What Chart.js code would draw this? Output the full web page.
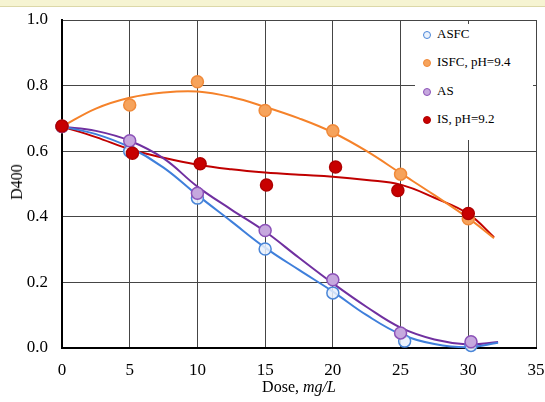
<!DOCTYPE html>
<html>
<head>
<meta charset="utf-8">
<script src="https://cdn.jsdelivr.net/npm/chart.js@4"></script>
<style>
  body { margin: 0; background: #fff; }
  #wrap { position: relative; width: 545px; height: 402px; overflow: hidden; font-family: "Liberation Serif", "Times New Roman", serif; }
  #band { position: absolute; left: 0; top: 0; width: 545px; height: 6px; background: #f6f4d2; border-bottom: 1px solid #dcd8a8; }
  #legend { position: absolute; left: 415px; top: 24px; width: 118px; height: 116px; background: #fff; }
  .item { position: absolute; left: 8px; height: 16px; font-size: 13px; line-height: 16px; white-space: nowrap; color: #000; }
  .mark { display: inline-block; width: 6px; height: 6px; border-radius: 50%; border: 1.5px solid; vertical-align: -1px; margin-right: 6px; }
  .xt { position: absolute; left: 0; width: 598px; top: 378px; text-align: center; font-size: 16px; color: #000; }
  .yt { position: absolute; left: 17px; top: 182px; font-size: 16px; color: #000; transform: translate(-50%, -50%) rotate(-90deg); }
</style>
</head>
<body>
<div id="wrap">
  <canvas id="chart" width="545" height="402"></canvas>
  <div id="band"></div>
  <div id="legend"></div>
  <div class="xt">Dose, <i>mg/L</i></div>
  <div class="yt">D400</div>
</div>
<script>
// measured points
const asfcX = [0, 5, 10, 15, 20, 25.3, 30.2];
const asfcY = [0.675, 0.600, 0.457, 0.302, 0.168, 0.021, 0.008];
const isfcX = [0, 5, 10, 15, 20, 25, 30];
const isfcY = [0.675, 0.741, 0.812, 0.724, 0.662, 0.530, 0.394];
const asX = [0, 5, 10, 15, 20, 25, 30.2];
const asY = [0.675, 0.632, 0.472, 0.358, 0.208, 0.046, 0.019];
const isX = [0, 5.2, 10.2, 15.1, 20.2, 24.8, 30];
const isY = [0.677, 0.594, 0.562, 0.497, 0.552, 0.480, 0.410];

// trend curves
const fitXa = [0, 2.5, 5, 7.5, 10, 12.5, 15, 17.5, 20, 22.5, 25, 27.5, 30, 32.2];
const asfcFit = [0.675, 0.652, 0.612, 0.550, 0.466, 0.386, 0.306, 0.238, 0.172, 0.100, 0.042, 0.012, 0.002, 0.016];
const asFit = [0.675, 0.662, 0.632, 0.578, 0.492, 0.422, 0.355, 0.275, 0.197, 0.125, 0.062, 0.026, 0.011, 0.018];
const fitXb = [0, 2.5, 5, 7.5, 10, 12.5, 15, 17.5, 20, 22.5, 25, 27.5, 30, 31.9];
const isfcFit = [0.675, 0.730, 0.763, 0.779, 0.782, 0.765, 0.735, 0.700, 0.657, 0.600, 0.533, 0.466, 0.396, 0.335];
const isFit = [0.675, 0.643, 0.606, 0.580, 0.559, 0.545, 0.535, 0.528, 0.522, 0.512, 0.498, 0.458, 0.409, 0.338];

const names = ['ASFC', 'ISFC, pH=9.4', 'AS', 'IS, pH=9.2'];
const xTicks = [0, 5, 10, 15, 20, 25, 30, 35];
const yTicks = [0, 0.2, 0.4, 0.6, 0.8, 1.0];

const styles = [
  { line: '#3f7fdb', fill: 'rgba(232,240,252,0.85)', border: '#4a86d8' },
  { line: '#f5822a', fill: '#f6a35c', border: '#f08a3a' },
  { line: '#7030a0', fill: '#c6a8de', border: '#8c52b8' },
  { line: '#c00000', fill: '#c80000', border: '#b00000' }
];

const pts = (xs, ys) => xs.map((x, i) => ({ x, y: ys[i] }));
const series = [
  [asfcX, asfcY, fitXa, asfcFit],
  [isfcX, isfcY, fitXb, isfcFit],
  [asX, asY, fitXa, asFit],
  [isX, isY, fitXb, isFit]
];

const datasets = [];
series.forEach((s, i) => {
  datasets.push({
    type: 'line', label: names[i] + ' fit', data: pts(s[2], s[3]),
    borderColor: styles[i].line, borderWidth: 2, pointRadius: 0,
    tension: 0.4, fill: false, order: 2, clip: false
  });
});
series.forEach((s, i) => {
  datasets.push({
    type: 'scatter', label: names[i], data: pts(s[0], s[1]),
    backgroundColor: styles[i].fill, borderColor: styles[i].border,
    borderWidth: 1.5, pointRadius: 6, order: 1 + (3 - i) * 0.01, clip: false
  });
});

const font = { family: '"Liberation Serif", "Times New Roman", serif', size: 17 };

new Chart(document.getElementById('chart'), {
  type: 'scatter',
  data: { datasets },
  options: {
    responsive: false,
    animation: false,
    layout: { padding: { left: 0, top: 20, right: 9, bottom: 0 } },
    plugins: { legend: { display: false }, tooltip: { enabled: false } },
    scales: {
      x: {
        type: 'linear', min: 0, max: 35,
        afterFit: s => { s.height = 54; s.paddingLeft = 0; s.paddingRight = 0; },
        afterBuildTicks: s => { s.ticks = xTicks.map(v => ({ value: v })); },
        ticks: { font, color: '#000', padding: 12, callback: v => String(v) },
        grid: { color: '#454545', lineWidth: 1, drawTicks: false },
        border: { color: '#000', width: 2 }
      },
      y: {
        min: 0, max: 1,
        afterFit: s => { s.width = 62; s.paddingTop = 0; s.paddingBottom = 0; },
        afterBuildTicks: s => { s.ticks = yTicks.map(v => ({ value: v })); },
        ticks: { font, color: '#000', padding: 14, callback: v => v.toFixed(1) },
        grid: { color: '#454545', lineWidth: 1, drawTicks: false },
        border: { color: '#000', width: 2 }
      }
    }
  }
});

// legend box inside the plot
const legend = document.getElementById('legend');
names.forEach((n, i) => {
  const row = document.createElement('div');
  row.className = 'item';
  row.style.top = (2 + i * 28.3) + 'px';
  row.innerHTML = '<span class="mark" style="background:' + styles[i].fill +
    ';border-color:' + styles[i].border + '"></span>' + n;
  legend.appendChild(row);
});
</script>
</body>
</html>
